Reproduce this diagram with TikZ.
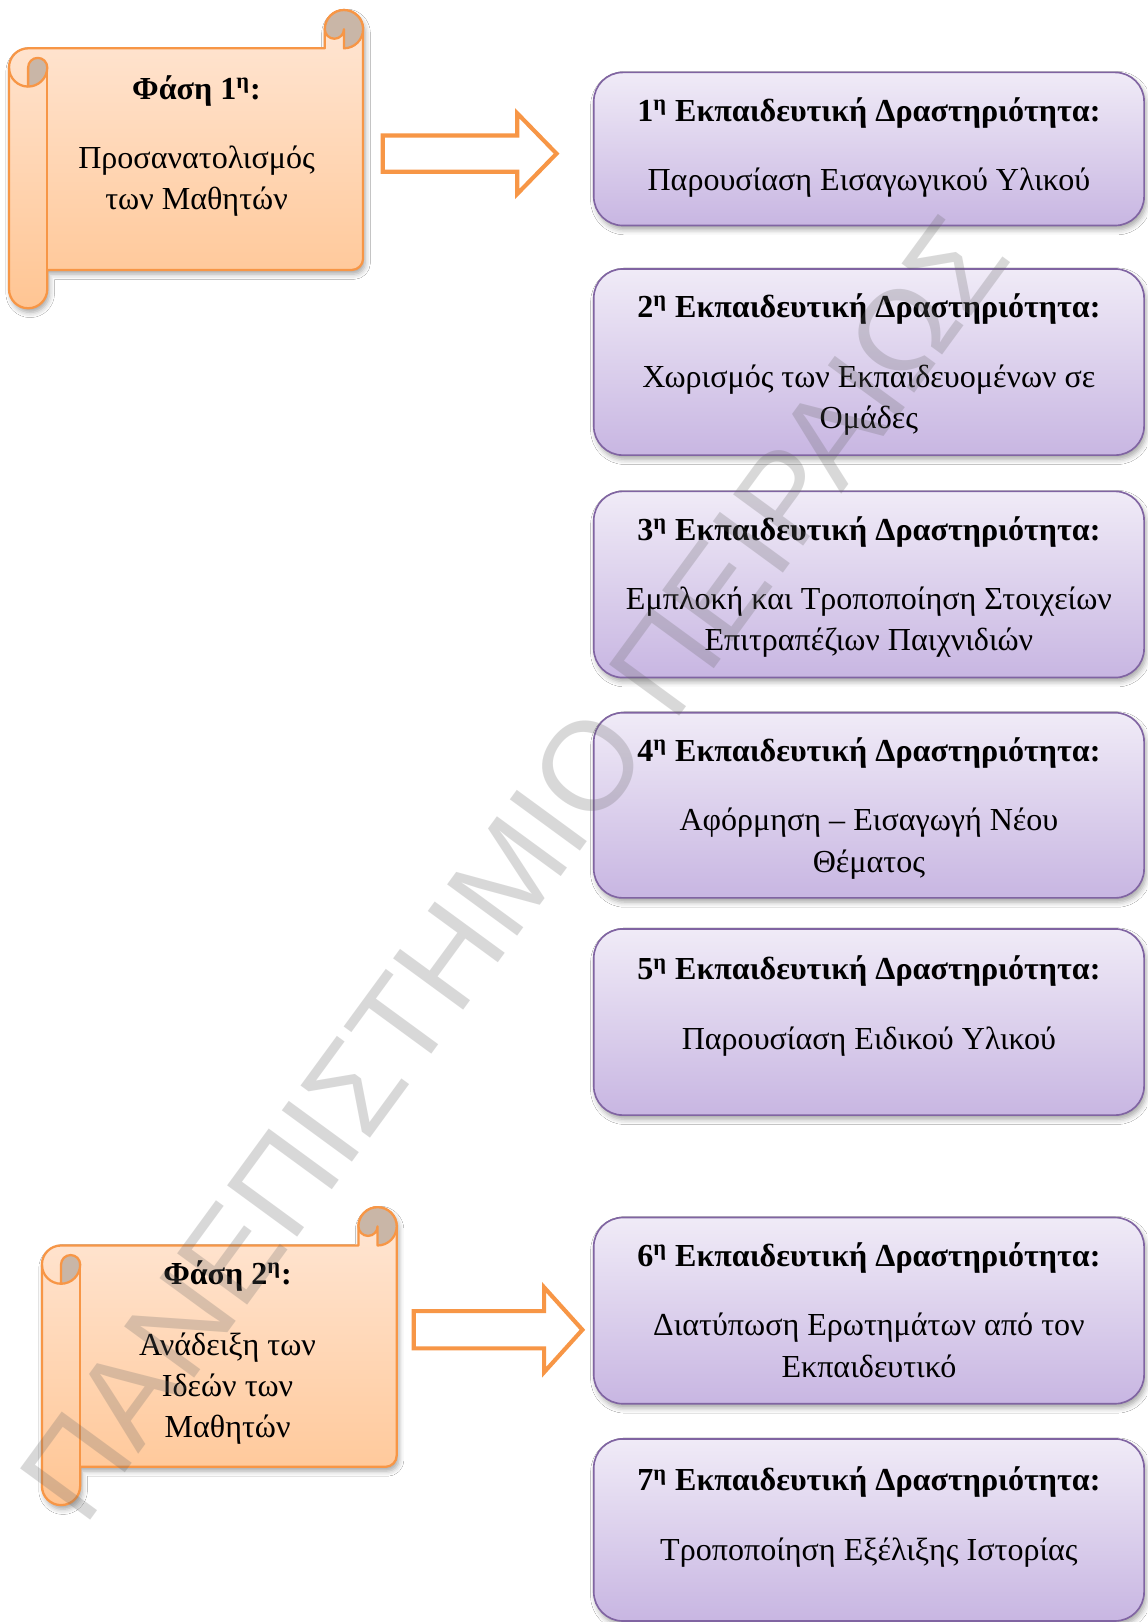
\documentclass[tikz,border=0pt]{standalone}
\usepackage{fontspec}
\setmainfont{Liberation Serif}
\newfontfamily\wmfont{Liberation Sans}
\usetikzlibrary{calc,shadows.blur}

\definecolor{scrollline}{HTML}{F79646}
\definecolor{scrolltop}{HTML}{FFE7D6}
\definecolor{scrollbot}{HTML}{FFC593}
\definecolor{curlcol}{HTML}{C9B6A7}
\definecolor{boxline}{HTML}{8064A2}
\definecolor{boxtop}{HTML}{F0EBF7}
\definecolor{boxbot}{HTML}{C8B6E2}
\definecolor{wmgray}{HTML}{666666}

\tikzset{
  softshadow/.style={blur shadow={shadow xshift=1pt, shadow yshift=-2pt,
      shadow blur radius=2.5pt, shadow opacity=35}},
  scrollbody/.style={draw=scrollline, line width=1.1pt, line join=round,
      top color=scrolltop, bottom color=scrollbot, softshadow},
  scrollstroke/.style={draw=scrollline, line width=1.1pt, line join=round},
  curl/.style={fill=curlcol, draw=scrollline, line width=1.1pt, line join=round},
  actbox/.style={draw=boxline, line width=0.8pt, rounded corners=14pt,
      top color=boxtop, bottom color=boxbot, minimum width=266pt,
      inner sep=0pt, softshadow},
  blockarrow/.style={draw=scrollline, line width=2pt, fill=white, line join=miter},
  hd/.style={font=\fontsize{15.5}{20}\selectfont\bfseries, inner sep=0pt, anchor=base},
  txt/.style={font=\fontsize{15.5}{20}\selectfont, inner sep=0pt, anchor=base},
  wm/.style={font=\fontsize{61}{61}\selectfont\wmfont, text=wmgray, opacity=0.25,
      rotate=53.8, inner sep=0pt}
}

% scroll shape: left, top, right, bottom (y grows downwards)
\newcommand{\drawscroll}[4]{%
  \def\sL{#1}\def\sT{#2}\def\sR{#3}\def\sB{#4}%
  \path[scrollbody] (\sL,\sT+55.5) arc[start angle=180,end angle=270,radius=18.5]
    -- (\sR-37,\sT+37) -- (\sR-37,\sT+18.5)
    arc[start angle=180,end angle=360,radius=18.5]
    -- (\sR,\sB-48) arc[start angle=0,end angle=90,radius=11]
    -- (\sL+37,\sB-37) -- (\sL+37,\sB-18.5)
    arc[start angle=0,end angle=180,radius=18.5] -- cycle;
  % curl of the left roll
  \filldraw[curl] (\sL+18.5,\sT+74) -- (\sL+18.5,\sT+55.5)
    arc[start angle=180,end angle=360,radius=9.25]
    arc[start angle=0,end angle=90,radius=18.5] -- cycle;
  \draw[scrollstroke] (\sL,\sT+55.5) arc[start angle=180,end angle=90,radius=18.5];
  \draw[scrollstroke] (\sL+37,\sT+55.5) -- (\sL+37,\sB-37);
  % curl of the top right roll
  \filldraw[curl] (\sR-37,\sT+18.5) arc[start angle=180,end angle=360,radius=18.5]
    arc[start angle=0,end angle=90,radius=18.5] -- (\sR-18.5,\sT+18.5)
    arc[start angle=0,end angle=180,radius=9.25] -- cycle;
}

% hollow block arrow: x start, x of head base, x tip, y centre, shaft half, head half
\newcommand{\blockarrow}[6]{%
  \draw[blockarrow] (#1,#4-#5) -- (#2,#4-#5) -- (#2,#4-#6) -- (#3,#4)
    -- (#2,#4+#6) -- (#2,#4+#5) -- (#1,#4+#5) -- cycle;}

\begin{document}
\begin{tikzpicture}[x=0.5pt,y=-0.5pt]
\useasboundingbox (0,0) rectangle (1109,1568);
\fill[white] (0,0) rectangle (1109,1568);

% phase scrolls
\drawscroll{8.7}{9.7}{351}{298}
\drawscroll{40.5}{1167}{383.5}{1455}

\node[hd]  (f1)  at (190,96)  {Φάση 1\textsuperscript{η}:};
\node[txt] (f1a) at (190,163) {Προσανατολισμός};
\node[txt] (f1b) at (190,203) {των Μαθητών};

\node[hd]  (f2)  at (220,1242) {Φάση 2\textsuperscript{η}:};
\node[txt] (f2a) at (220,1310) {Ανάδειξη των};
\node[txt] (f2b) at (220,1350) {Ιδεών των};
\node[txt] (f2c) at (220,1390) {Μαθητών};

% arrows from the phases to the activities
\blockarrow{370}{500}{538}{148.5}{17.5}{39}
\blockarrow{400}{526}{563}{1285.5}{18}{41}

% activity boxes
\node[actbox, minimum height=74pt]   (a1) at (840,144)    {};
\node[actbox, minimum height=90pt]   (a2) at (840,350)    {};
\node[actbox, minimum height=90pt]   (a3) at (840,565)    {};
\node[actbox, minimum height=89.5pt] (a4) at (840,778.5)  {};
\node[actbox, minimum height=90pt]   (a5) at (840,988)    {};
\node[actbox, minimum height=90pt]   (a6) at (840,1267)   {};
\node[actbox, minimum height=88pt]   (a7) at (840,1479)   {};

\node[hd]  (a1h) at ($(a1.north)+(0,48)$)  {1\textsuperscript{η} Εκπαιδευτική Δραστηριότητα:};
\node[txt] (a1t) at ($(a1.north)+(0,115)$) {Παρουσίαση Εισαγωγικού Υλικού};

\node[hd]  (a2h) at ($(a2.north)+(0,48)$)  {2\textsuperscript{η} Εκπαιδευτική Δραστηριότητα:};
\node[txt] (a2t) at ($(a2.north)+(0,115)$) {Χωρισμός των Εκπαιδευομένων σε};
\node[txt] (a2u) at ($(a2.north)+(0,155)$) {Ομάδες};

\node[hd]  (a3h) at ($(a3.north)+(0,48)$)  {3\textsuperscript{η} Εκπαιδευτική Δραστηριότητα:};
\node[txt] (a3t) at ($(a3.north)+(0,115)$) {Εμπλοκή και Τροποποίηση Στοιχείων};
\node[txt] (a3u) at ($(a3.north)+(0,155)$) {Επιτραπέζιων Παιχνιδιών};

\node[hd]  (a4h) at ($(a4.north)+(0,48)$)  {4\textsuperscript{η} Εκπαιδευτική Δραστηριότητα:};
\node[txt] (a4t) at ($(a4.north)+(0,115)$) {Αφόρμηση – Εισαγωγή Νέου};
\node[txt] (a4u) at ($(a4.north)+(0,155)$) {Θέματος};

\node[hd]  (a5h) at ($(a5.north)+(0,50)$)  {5\textsuperscript{η} Εκπαιδευτική Δραστηριότητα:};
\node[txt] (a5t) at ($(a5.north)+(0,117)$) {Παρουσίαση Ειδικού Υλικού};

\node[hd]  (a6h) at ($(a6.north)+(0,48)$)  {6\textsuperscript{η} Εκπαιδευτική Δραστηριότητα:};
\node[txt] (a6t) at ($(a6.north)+(0,115)$) {Διατύπωση Ερωτημάτων από τον};
\node[txt] (a6u) at ($(a6.north)+(0,155)$) {Εκπαιδευτικό};

\node[hd]  (a7h) at ($(a7.north)+(0,51)$)  {7\textsuperscript{η} Εκπαιδευτική Δραστηριότητα:};
\node[txt] (a7t) at ($(a7.north)+(0,118)$) {Τροποποίηση Εξέλιξης Ιστορίας};

% diagonal watermark
\node[wm] (wmark) at (497,839) {ΠΑΝΕΠΙΣΤΗΜΙΟ ΠΕΙΡΑΙΩΣ};
\end{tikzpicture}
\end{document}
